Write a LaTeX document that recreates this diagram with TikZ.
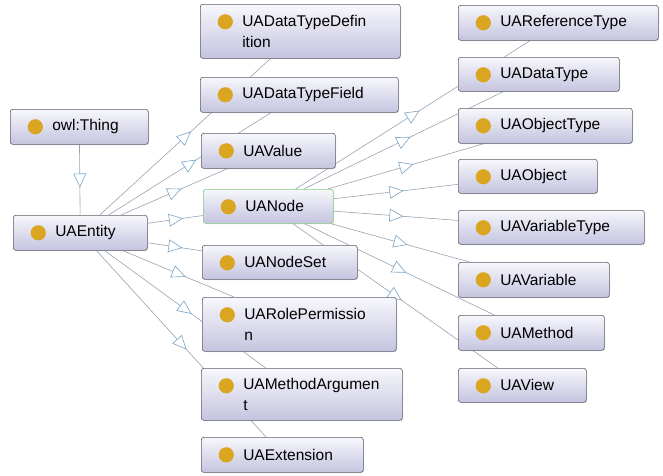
\documentclass[tikz,border=0pt]{standalone}
\usepackage{fontspec}
\setmainfont{Liberation Sans}
\usetikzlibrary{decorations.markings,backgrounds,shadows}
\definecolor{boxtop}{RGB}{247,247,252}
\definecolor{boxbot}{RGB}{196,196,224}
\definecolor{boxline}{RGB}{95,95,108}
\definecolor{dotc}{RGB}{218,165,32}
\definecolor{edgec}{RGB}{155,162,178}
\definecolor{headc}{RGB}{120,165,200}
\definecolor{selc}{RGB}{130,205,130}
\tikzset{
  cls/.style={draw=boxline, line width=0.6pt, rounded corners=2.5pt,
    top color=boxtop, bottom color=boxbot, anchor=north west,
    inner xsep=0pt, inner ysep=0pt, align=left, minimum height=#1,
    drop shadow={shadow xshift=0.8pt, shadow yshift=-0.8pt, opacity=0.25},
    font=\fontsize{15.5}{21}\selectfont,
    path picture={\fill[dotc] ([xshift=25pt,yshift=-17.5pt]path picture bounding box.north west) circle (7.6pt);}},
  cls/.default=35pt,
  isa/.style={draw=edgec, line width=0.6pt, postaction={decorate},
    decoration={markings, mark=at position 0.5 with {\draw[headc, fill=white, line width=0.6pt] (7pt,0pt) -- (-6pt,6pt) -- (-6pt,-6pt) -- cycle;}}}
}
\begin{document}
\begin{tikzpicture}[x=1pt, y=-1pt]
\useasboundingbox (0,0) rectangle (663,475);
% left column
\node[cls, text width=138pt] (thing) at (10,109) {\hspace*{42pt}owl:Thing};
\node[cls, text width=134pt] (entity) at (13,215) {\hspace*{42pt}UAEntity};
% middle column
\node[cls=54pt, text width=200pt] (dtdef) at (200,4) {\hspace*{42pt}UADataTypeDefin\\\hspace*{42pt}ition};
\node[cls, text width=198pt] (dtfield) at (200,77) {\hspace*{42pt}UADataTypeField};
\node[cls, text width=134pt] (value) at (201,133) {\hspace*{42pt}UAValue};
\node[cls=34pt, text width=130pt, draw=selc] (uanode) at (203,189) {\hspace*{42pt}UANode};
\node[cls=34pt, text width=155pt] (nodeset) at (202,245) {\hspace*{42pt}UANodeSet};
\node[cls=54pt, text width=194pt] (roleperm) at (202,297) {\hspace*{42pt}UARolePermissio\\\hspace*{42pt}n};
\node[cls=52pt, text width=201pt] (methodarg) at (201,368) {\hspace*{42pt}UAMethodArgumen\\\hspace*{42pt}t};
\node[cls, text width=162pt] (ext) at (201,437) {\hspace*{42pt}UAExtension};
% right column
\node[cls, text width=200pt] (reftype) at (458,5) {\hspace*{42pt}UAReferenceType};
\node[cls=34pt, text width=161pt] (datatype) at (458,57) {\hspace*{42pt}UADataType};
\node[cls, text width=174pt] (objtype) at (458,108) {\hspace*{42pt}UAObjectType};
\node[cls=34pt, text width=139pt] (object) at (458,159) {\hspace*{42pt}UAObject};
\node[cls=34pt, text width=186pt] (vartype) at (458,210) {\hspace*{42pt}UAVariableType};
\node[cls, text width=151pt] (variable) at (458,262) {\hspace*{42pt}UAVariable};
\node[cls, text width=146pt] (method) at (458,315) {\hspace*{42pt}UAMethod};
\node[cls=34pt, text width=128pt] (view) at (458,368) {\hspace*{42pt}UAView};
\begin{pgfonlayer}{background}
\fill[white] (0,0) rectangle (663,475);
\draw[isa] (thing) -- (entity);
\foreach \t in {dtdef,dtfield,value,uanode,nodeset,roleperm,methodarg,ext}
  \draw[isa] (entity) -- (\t);
\foreach \t in {reftype,datatype,objtype,object,vartype,variable,method,view}
  \draw[isa] (uanode) -- (\t);
\end{pgfonlayer}
\end{tikzpicture}
\end{document}
